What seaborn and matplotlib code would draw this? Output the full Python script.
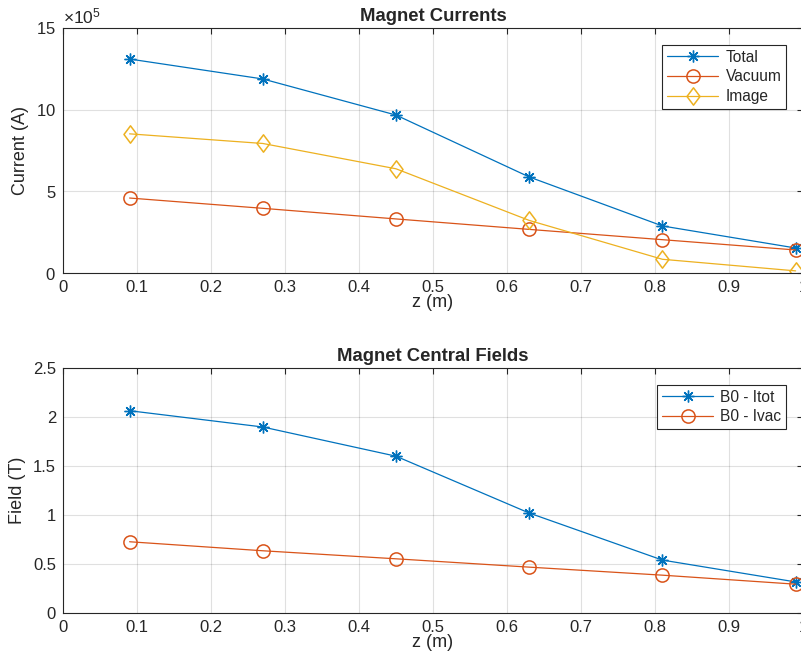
import matplotlib
matplotlib.use("Agg")
import matplotlib.pyplot as plt
from matplotlib.path import Path
from matplotlib.ticker import FuncFormatter, MultipleLocator
import seaborn as sns

# Magnet positions along the axis (m)
z = [0.09, 0.27, 0.45, 0.63, 0.81, 0.99]

# Magnet currents (A)
i_total = [13.10e5, 11.88e5, 9.67e5, 5.88e5, 2.88e5, 1.53e5]
i_vacuum = [4.59e5, 3.96e5, 3.31e5, 2.67e5, 2.04e5, 1.41e5]
i_image = [8.52e5, 7.93e5, 6.38e5, 3.22e5, 0.84e5, 0.13e5]

# Central fields (T)
b0_itot = [2.064, 1.898, 1.600, 1.020, 0.540, 0.317]
b0_ivac = [0.727, 0.635, 0.553, 0.468, 0.386, 0.294]

BLUE = "#0072BD"
ORANGE = "#D95319"
YELLOW = "#EDB120"
AXCOL = "#262626"

sns.set_theme(style="white")
plt.rcParams["font.family"] = ["Liberation Sans", "DejaVu Sans"]
plt.rcParams["mathtext.fontset"] = "custom"
plt.rcParams["mathtext.rm"] = "Liberation Sans"

fig = plt.figure(figsize=(8.01, 6.69), dpi=100)
W, H = 801, 669
ax1 = fig.add_axes([63 / W, 1 - 273 / H, 740 / W, 245 / H])
ax2 = fig.add_axes([63 / W, 1 - 613 / H, 740 / W, 245 / H])

# eight-armed asterisk and a slightly narrow diamond
asterisk = (8, 2, 0)
diamond = Path([(0, 1), (0.75, 0), (0, -1), (-0.75, 0), (0, 1)],
               [Path.MOVETO, Path.LINETO, Path.LINETO, Path.LINETO, Path.CLOSEPOLY])

star_kw = dict(marker=asterisk, markersize=8.5, markeredgewidth=1.0,
               markeredgecolor=BLUE, linewidth=0.9)
circ_kw = dict(marker="o", markersize=9.5, markerfacecolor="none",
               markeredgecolor=ORANGE, markeredgewidth=1.1, linewidth=0.9)
diam_kw = dict(marker=diamond, markersize=12.5, markerfacecolor="none",
               markeredgecolor=YELLOW, markeredgewidth=1.1, linewidth=0.9)

legend_kw = dict(loc="upper right", bbox_to_anchor=(0.977, 0.93),
                 fontsize=11.2, frameon=True, fancybox=False,
                 edgecolor=AXCOL, framealpha=1, borderpad=0.3,
                 handlelength=3.3, labelspacing=0.3, handletextpad=0.45,
                 borderaxespad=0)


def style_axes(ax):
    ax.set_xlim(0, 1)
    ax.xaxis.set_major_locator(MultipleLocator(0.1))
    ax.xaxis.set_major_formatter(FuncFormatter(lambda v, p: f"{v:g}"))
    ax.grid(True, color="#000000", alpha=0.12, linewidth=0.8)
    ax.set_axisbelow(True)
    for s in ax.spines.values():
        s.set_color(AXCOL)
        s.set_linewidth(0.8)
    ax.tick_params(direction="in", length=4, width=0.8, colors=AXCOL,
                   top=True, right=True, labelsize=12, pad=5)
    ax.set_xlabel("z (m)", fontsize=13, color=AXCOL, labelpad=-1)


# Upper panel: currents
sns.lineplot(x=z, y=i_total, ax=ax1, color=BLUE, label="Total", **star_kw)
sns.lineplot(x=z, y=i_vacuum, ax=ax1, color=ORANGE, label="Vacuum", **circ_kw)
sns.lineplot(x=z, y=i_image, ax=ax1, color=YELLOW, label="Image", **diam_kw)
ax1.set_ylim(0, 15e5)
ax1.yaxis.set_major_locator(MultipleLocator(5e5))
ax1.ticklabel_format(axis="y", style="sci", scilimits=(5, 5), useMathText=True)
style_axes(ax1)
ax1.yaxis.get_offset_text().set_fontsize(12.5)
ax1.yaxis.get_offset_text().set_color(AXCOL)
ax1.set_ylabel("Current (A)", fontsize=13, color=AXCOL, labelpad=5)
ax1.set_title("Magnet Currents", fontsize=13.3, fontweight="bold", pad=5)
leg1 = ax1.legend(**legend_kw)
leg1.get_frame().set_linewidth(0.8)

# Lower panel: central fields
sns.lineplot(x=z, y=b0_itot, ax=ax2, color=BLUE, label="B0 - Itot", **star_kw)
sns.lineplot(x=z, y=b0_ivac, ax=ax2, color=ORANGE, label="B0 - Ivac", **circ_kw)
ax2.set_ylim(0, 2.5)
ax2.yaxis.set_major_locator(MultipleLocator(0.5))
ax2.yaxis.set_major_formatter(FuncFormatter(lambda v, p: f"{v:g}"))
style_axes(ax2)
ax2.set_ylabel("Field (T)", fontsize=13, color=AXCOL, labelpad=5)
ax2.set_title("Magnet Central Fields", fontsize=13.3, fontweight="bold", pad=5)
leg2 = ax2.legend(**legend_kw)
leg2.get_frame().set_linewidth(0.8)

fig.savefig("out.png", dpi=100, facecolor="white")
